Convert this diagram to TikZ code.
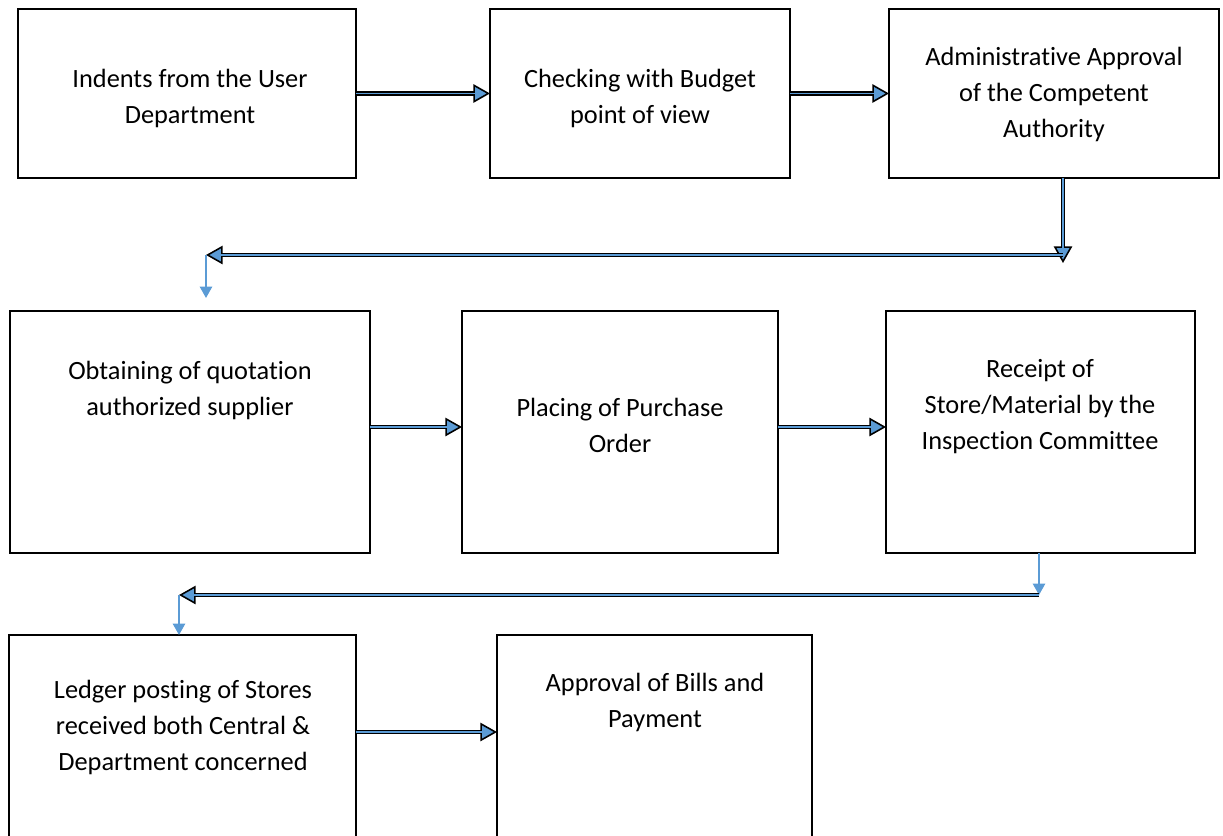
\documentclass[tikz,border=0pt]{standalone}
\usepackage{fontspec}
\setmainfont[Ligatures=NoCommon]{Carlito}
\usetikzlibrary{arrows.meta, calc}
\definecolor{arrowblue}{HTML}{5B9BD5}

\begin{document}
\begin{tikzpicture}[x=0.02cm, y=-0.02cm,
  box/.style={draw, line width=1.1pt, inner sep=0pt, outer sep=0pt, anchor=north west},
  txt/.style={align=center, font=\fontsize{15}{20.5}\selectfont},
  flow/.style={draw=black, line width=2.6pt,
    -{Triangle[length=9.5pt, width=10.5pt, line width=0.9pt, fill=arrowblue]},
    postaction={draw=arrowblue, line width=1pt, shorten >=8pt, -}},
  feed/.style={draw=arrowblue, line width=1.1pt, -{Triangle[length=6.5pt, width=7pt]}}]
\useasboundingbox (0,0) rectangle (1223,835);
\clip (0,0) rectangle (1223,835);

% first row
\node[box, minimum width=6.76cm, minimum height=3.38cm] (indent) at (18,9) {};
\node[box, minimum width=6.00cm, minimum height=3.38cm] (budget) at (490,9) {};
\node[box, minimum width=6.60cm, minimum height=3.38cm] (admin) at (889,9) {};
\node[txt] (t1) at (190,98) {Indents from the User\\Department};
\node[txt] (t2) at (640,98) {Checking with Budget\\point of view};
\node[txt] (t3) at (1054,94) {Administrative Approval\\of the Competent\\Authority};

% second row
\node[box, minimum width=7.20cm, minimum height=4.84cm] (quote) at (10,311) {};
\node[box, minimum width=6.32cm, minimum height=4.84cm] (order) at (462,311) {};
\node[box, minimum width=6.18cm, minimum height=4.84cm] (receipt) at (886,311) {};
\node[txt] (t4) at (190,390) {Obtaining of quotation\\authorized supplier};
\node[txt] (t5) at (620,425) {Placing of Purchase\\Order};
\node[txt] (t6) at (1040,407) {Receipt of\\Store/Material by the\\Inspection Committee};

% third row
\node[box, minimum width=6.94cm, minimum height=4.70cm] (ledger) at (9,635) {};
\node[box, minimum width=6.30cm, minimum height=4.70cm] (bills) at (497,635) {};
\node[txt] (t7) at (183,727) {Ledger posting of Stores\\received both Central \&\\Department concerned};
\node[txt] (t8) at (655,702) {Approval of Bills and\\Payment};

\coordinate (drop1) at (1063,263);
\coordinate (bend1) at (1063,255);
\coordinate (turn1) at (206,255);
\coordinate (bend2) at (1039,595);
\coordinate (turn2) at (179,595);
\coordinate (row2) at (0,427);
\coordinate (row3) at (0,732);

\draw[flow] (indent.east) -- (budget.west);
\draw[flow] (budget.east) -- (admin.west);
\draw[flow] (admin.south -| drop1) -- (drop1);
\draw[flow] (bend1) -- (turn1);
\draw[feed] (turn1) -- ++(0,43);

\draw[flow] (quote.east |- row2) -- (order.west |- row2);
\draw[flow] (order.east |- row2) -- (receipt.west |- row2);
\draw[feed] (receipt.south -| bend2) -- (bend2);
\draw[flow] (bend2) -- (turn2);
\draw[feed] (turn2) -- (turn2 |- ledger.north);

\draw[flow] (ledger.east |- row3) -- (bills.west |- row3);
\end{tikzpicture}
\end{document}
